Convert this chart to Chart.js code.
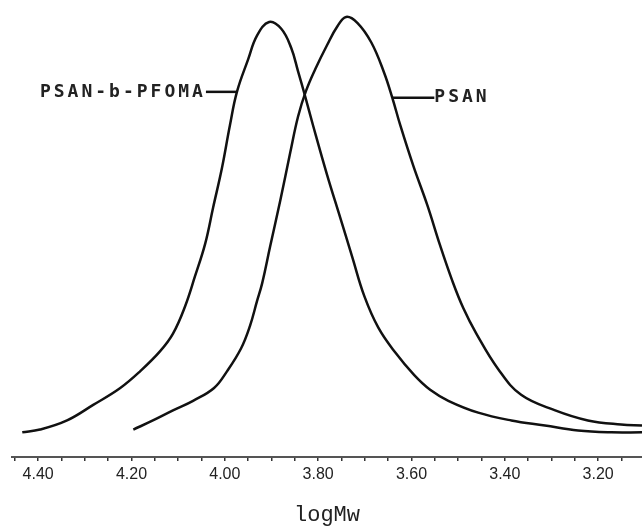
<!DOCTYPE html>
<html>
<head>
<meta charset="utf-8">
<script src="https://cdn.jsdelivr.net/npm/chart.js@4/dist/chart.umd.min.js"></script>
<style>
  html, body { margin: 0; padding: 0; background: #fff; }
  #gpc { display: block; }
</style>
</head>
<body>
<canvas id="gpc" width="642" height="526"></canvas>
<script>
// GPC traces, detector signal vs logMw (axis runs high -> low)
const copolyLogMw = [4.434, 4.396, 4.338, 4.282, 4.224, 4.181, 4.139, 4.111, 4.085, 4.064, 4.042,
	4.025, 4.006, 3.989, 3.974, 3.950, 3.931, 3.905, 3.879, 3.858, 3.843, 3.828, 3.811, 3.781,
	3.753, 3.727, 3.701, 3.671, 3.635, 3.594, 3.560, 3.521, 3.457, 3.386, 3.314, 3.243, 3.172, 3.106];
const copolySignal = [5.4, 6.0, 8.0, 11.4, 15.1, 18.8, 23.1, 27.0, 33.0, 39.5, 46.7,
	54.6, 63.3, 72.6, 79.9, 87.0, 92.2, 95.2, 93.7, 89.6, 84.4, 79.0, 72.6, 61.8,
	52.5, 43.8, 35.2, 28.3, 22.9, 17.9, 14.7, 12.3, 9.7, 8.0, 6.9, 5.8, 5.4, 5.4];

const psanLogMw = [4.196, 4.154, 4.111, 4.068, 4.023, 3.995, 3.965, 3.946, 3.931, 3.920, 3.903,
	3.881, 3.860, 3.843, 3.826, 3.806, 3.781, 3.759, 3.740, 3.716, 3.686, 3.659, 3.641, 3.624,
	3.596, 3.566, 3.539, 3.513, 3.489, 3.461, 3.414, 3.365, 3.292, 3.222, 3.151, 3.106];
const psanSignal = [6.0, 8.0, 10.2, 12.3, 15.1, 18.8, 23.8, 28.7, 34.1, 38.0, 46.0,
	56.2, 66.5, 74.5, 80.1, 84.9, 90.1, 94.2, 96.3, 95.0, 90.7, 84.2, 78.6, 72.6,
	63.7, 55.1, 46.4, 38.7, 32.6, 27.0, 19.2, 13.6, 10.2, 8.0, 7.1, 6.9];

const tickValues = [4.40, 4.20, 4.00, 3.80, 3.60, 3.40, 3.20];
const tickLabels = ['4.40', '4.20', '4.00', '3.80', '3.60', '3.40', '3.20'];

// curve labels: text and the point on the trace the leader line touches
const seriesNames = ['PSAN-b-PFOMA', 'PSAN'];
const labelAnchorLogMw = [3.974, 3.641];
const labelAnchorSignal = [79.9, 78.6];

function toPoints(xs, ys) {
	let pts = [];
	for (let i = 0; i < xs.length; i++) {
		pts.push({ x: xs[i], y: ys[i] });
	}
	return pts;
}

// small ticks every 0.05 along the axis, labels only on the 0.2 steps
function minorTicks() {
	let out = [];
	for (let k = 63; k <= 89; k++) {
		out.push({ value: k / 20 });
	}
	return out;
}

const curveLabels = {
	id: 'curveLabels',
	afterDatasetsDraw(chart) {
		const ctx = chart.ctx;
		const xs = chart.scales.x;
		const ys = chart.scales.y;
		ctx.save();
		ctx.font = 'bold 18px "DejaVu Sans Mono"';
		ctx.letterSpacing = '3px';
		ctx.fillStyle = '#222';
		ctx.strokeStyle = '#111';
		ctx.lineWidth = 2.5;
		ctx.textBaseline = 'middle';

		// left label sits before the curve, right label after it
		let ax = xs.getPixelForValue(labelAnchorLogMw[0]);
		let ay = ys.getPixelForValue(labelAnchorSignal[0]);
		ctx.beginPath();
		ctx.moveTo(ax, ay);
		ctx.lineTo(ax - 31, ay);
		ctx.stroke();
		ctx.textAlign = 'right';
		ctx.fillText(seriesNames[0], ax - 31, ay);

		ax = xs.getPixelForValue(labelAnchorLogMw[1]);
		ay = ys.getPixelForValue(labelAnchorSignal[1]);
		ctx.beginPath();
		ctx.moveTo(ax, ay);
		ctx.lineTo(ax + 42, ay);
		ctx.stroke();
		ctx.textAlign = 'left';
		ctx.fillText(seriesNames[1], ax + 42, ay);
		ctx.restore();
	},
};

const lineStyle = {
	borderColor: '#111',
	borderWidth: 2.5,
	pointRadius: 0,
	fill: false,
	tension: 0.4,
};

new Chart(document.getElementById('gpc'), {
	type: 'line',
	data: {
		datasets: [
			Object.assign({ label: seriesNames[0], data: toPoints(copolyLogMw, copolySignal) }, lineStyle),
			Object.assign({ label: seriesNames[1], data: toPoints(psanLogMw, psanSignal) }, lineStyle),
		],
	},
	options: {
		responsive: false,
		animation: false,
		layout: { padding: { left: 12, right: 0, top: 0, bottom: 0 } },
		plugins: { legend: { display: false }, tooltip: { enabled: false } },
		scales: {
			x: {
				type: 'linear',
				reverse: true,
				min: 3.106,
				max: 4.456,
				afterBuildTicks: (scale) => {
					scale.ticks = minorTicks();
				},
				border: { display: true, color: '#555', width: 2 },
				grid: {
					drawOnChartArea: false,
					drawTicks: true,
					tickLength: 4,
					color: '#333',
					lineWidth: 1.5,
				},
				ticks: {
					autoSkip: false,
					maxRotation: 0,
					padding: 6,
					color: '#222',
					font: { family: '"Liberation Sans"', size: 16, lineHeight: 1 },
					callback: (value) => {
						for (let i = 0; i < tickValues.length; i++) {
							if (Math.abs(value - tickValues[i]) < 1e-6) return tickLabels[i];
						}
						return '';
					},
				},
				title: {
					display: true,
					text: 'logMw',
					color: '#222',
					font: { family: '"Liberation Mono"', size: 22, lineHeight: 1 },
					padding: { top: 15, bottom: 0 },
				},
			},
			y: {
				display: false,
				min: 0,
				max: 100,
			},
		},
	},
	plugins: [curveLabels],
});
</script>
</body>
</html>
